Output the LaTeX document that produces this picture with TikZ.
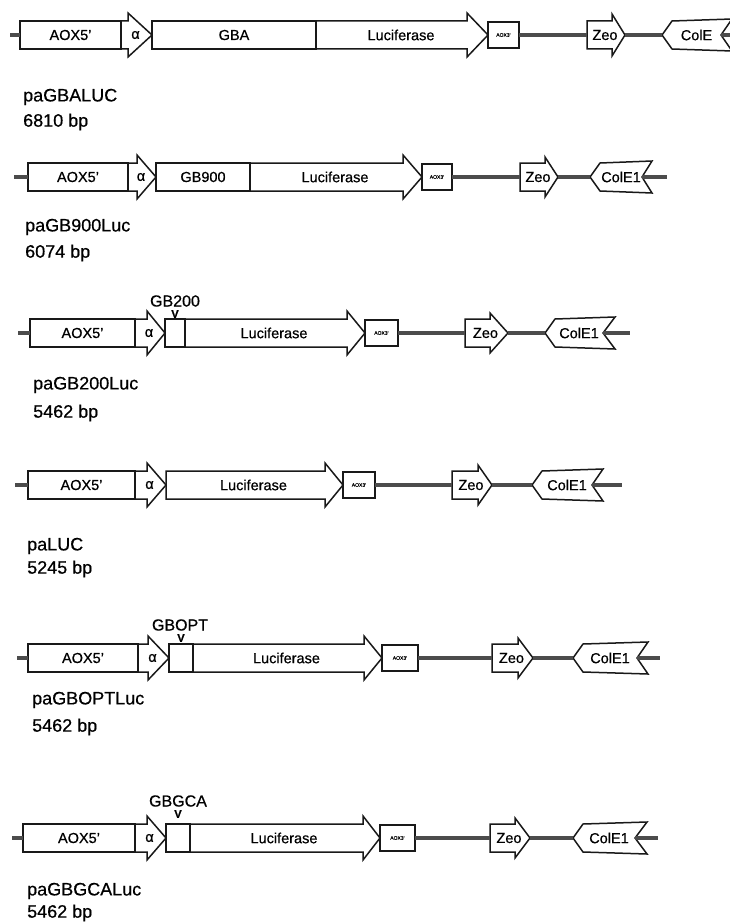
\documentclass[tikz,border=0pt]{standalone}
\usepackage{fontspec}
\setmainfont{Liberation Sans}[FakeBold=0.6]
\begin{document}
\begin{tikzpicture}[x=1pt,y=-1pt,
  seg/.style={draw=black!90,line width=1.5pt,fill=white,line join=miter},
  bb/.style={draw=black!70,line width=3.5pt},
  lab/.style={font=\fontsize{14.5}{14.5}\selectfont,inner sep=0pt},
  tinylab/.style={font=\fontsize{5}{5}\selectfont,inner sep=0pt},
  namelab/.style={font=\fontsize{18}{18}\selectfont,inner sep=0pt,anchor=west},
  gblab/.style={font=\fontsize{16}{16}\selectfont,inner sep=0pt},
  vlab/.style={font=\fontsize{11}{11}\selectfont\bfseries,inner sep=0pt}]
\useasboundingbox (0,0) rectangle (730,923);
% box: name x0 x1 yc label
\newcommand{\segbox}[5]{%
  \draw[seg] (#2,#4-14) rectangle (#3,#4+14);
  \coordinate (#1-in) at (#2,#4); \coordinate (#1-out) at (#3,#4);
  \node[lab] (#1) at ({(#2+#3)/2},#4) {#5};}
% small box (AOX3')
\newcommand{\smallbox}[4]{%
  \draw[seg] (#2,#4-13) rectangle (#3,#4+13);
  \coordinate (#1-in) at (#2,#4); \coordinate (#1-out) at (#3,#4);
  \node[tinylab] (#1) at ({(#2+#3)/2},#4) {AOX3'};}
% forward arrow: name x0 xh xt yc flare label
\newcommand{\fwdarrow}[7]{%
  \draw[seg] (#2,#5-14) -- (#3,#5-14) -- (#3,#5-14-#6) -- (#4,#5) -- (#3,#5+14+#6) -- (#3,#5+14) -- (#2,#5+14) -- cycle;
  \coordinate (#1-in) at (#2,#5); \coordinate (#1-out) at (#4,#5);
  \node[lab] (#1) at ({(#2+#4)/2-1},#5) {#7};}
% reverse arrow: name xt xh x1 xn yc label
\newcommand{\revarrow}[7]{%
  \draw[seg] (#2,#6) -- (#3,#6-14) -- (#4,#6-16) -- (#5,#6) -- (#4,#6+16) -- (#3,#6+14) -- cycle;
  \coordinate (#1-in) at (#2,#6); \coordinate (#1-out) at (#5,#6);
  \node[lab] (#1) at ({(#3+#5)/2},#6) {#7};}
% stub: name xs x0 yc
\newcommand{\stub}[4]{\coordinate (#1) at (#2,#4);}

% ---------- Row 1 ----------
\stub{s1}{10}{20}{35}
\segbox{a1}{20}{121}{35}{AOX5'}
\draw[bb] (s1) -- (a1-in);
\fwdarrow{al1}{121}{128}{152}{35}{8}{α}
\segbox{g1}{152}{316}{35}{GBA}
\fwdarrow{l1}{316}{467}{488}{35}{8}{Luciferase}
\smallbox{t1}{488}{519}{35}
\fwdarrow{z1}{587}{612}{625}{35}{7}{Zeo}
\draw[bb] (t1-out) -- (z1-in);
\coordinate (e1) at (730,35);
\revarrow{c1}{662}{672}{732}{721}{35}{ColE}
\draw[bb] (z1-out) -- (c1-in);
\draw[bb] (c1-out) -- (e1);
\node[namelab] (n1) at (23,97) {paGBALUC};
\node[namelab] (b1) at (23,122) {6810 bp};

% ---------- Row 2 ----------
\stub{s2}{14}{28}{177}
\segbox{a2}{28}{128}{177}{AOX5'}
\draw[bb] (s2) -- (a2-in);
\fwdarrow{al2}{128}{137}{156}{177}{8}{α}
\segbox{g2}{156}{250}{177}{GB900}
\fwdarrow{l2}{250}{403}{422}{177}{8}{Luciferase}
\smallbox{t2}{422}{452}{177}
\fwdarrow{z2}{520}{545}{558}{177}{6}{Zeo}
\draw[bb] (t2-out) -- (z2-in);
\revarrow{c2}{590}{600}{652}{642}{177}{ColE1}
\draw[bb] (z2-out) -- (c2-in);
\coordinate (e2) at (667,177);
\draw[bb] (c2-out) -- (e2);
\node[namelab] (n2) at (25,227) {paGB900Luc};
\node[namelab] (b2) at (25,253) {6074 bp};

% ---------- Row 3 ----------
\stub{s3}{18}{30}{333}
\segbox{a3}{30}{135}{333}{AOX5'}
\draw[bb] (s3) -- (a3-in);
\fwdarrow{al3}{135}{147}{165}{333}{8}{α}
\segbox{g3}{165}{185}{333}{}
\fwdarrow{l3}{185}{347}{365}{333}{8}{Luciferase}
\smallbox{t3}{365}{398}{333}
\fwdarrow{z3}{465}{490}{508}{333}{6}{Zeo}
\draw[bb] (t3-out) -- (z3-in);
\revarrow{c3}{545}{555}{615}{603}{333}{ColE1}
\draw[bb] (z3-out) -- (c3-in);
\coordinate (e3) at (630,333);
\draw[bb] (c3-out) -- (e3);
\node[gblab] (gl3) at (175,301) {GB200};
\node[vlab] (v3) at (175,314) {V};
\node[namelab] (n3) at (33,385) {paGB200Luc};
\node[namelab] (b3) at (33,413) {5462 bp};

% ---------- Row 4 ----------
\stub{s4}{15}{28}{485}
\segbox{a4}{28}{135}{485}{AOX5'}
\draw[bb] (s4) -- (a4-in);
\fwdarrow{al4}{135}{147}{166}{485}{8}{α}
\fwdarrow{l4}{166}{325}{343}{485}{8}{Luciferase}
\smallbox{t4}{343}{375}{485}
\fwdarrow{z4}{452}{478}{492}{485}{6}{Zeo}
\draw[bb] (t4-out) -- (z4-in);
\revarrow{c4}{532}{542}{603}{592}{485}{ColE1}
\draw[bb] (z4-out) -- (c4-in);
\coordinate (e4) at (622,485);
\draw[bb] (c4-out) -- (e4);
\node[namelab] (n4) at (27,546) {paLUC};
\node[namelab] (b4) at (27,569) {5245 bp};

% ---------- Row 5 ----------
\stub{s5}{17}{28}{658}
\segbox{a5}{28}{138}{658}{AOX5'}
\draw[bb] (s5) -- (a5-in);
\fwdarrow{al5}{138}{148}{169}{658}{8}{α}
\segbox{g5}{169}{193}{658}{}
\fwdarrow{l5}{193}{364}{382}{658}{8}{Luciferase}
\smallbox{t5}{382}{418}{658}
\fwdarrow{z5}{492}{518}{533}{658}{6}{Zeo}
\draw[bb] (t5-out) -- (z5-in);
\revarrow{c5}{573}{583}{648}{637}{658}{ColE1}
\draw[bb] (z5-out) -- (c5-in);
\coordinate (e5) at (660,658);
\draw[bb] (c5-out) -- (e5);
\node[gblab] (gl5) at (180,625) {GBOPT};
\node[vlab] (v5) at (181,638) {V};
\node[namelab] (n5) at (32,700) {paGBOPTLuc};
\node[namelab] (b5) at (32,727) {5462 bp};

% ---------- Row 6 ----------
\stub{s6}{12}{23}{838}
\segbox{a6}{23}{135}{838}{AOX5'}
\draw[bb] (s6) -- (a6-in);
\fwdarrow{al6}{135}{147}{166}{838}{8}{α}
\segbox{g6}{166}{190}{838}{}
\fwdarrow{l6}{190}{363}{380}{838}{8}{Luciferase}
\smallbox{t6}{380}{415}{838}
\fwdarrow{z6}{490}{515}{530}{838}{6}{Zeo}
\draw[bb] (t6-out) -- (z6-in);
\revarrow{c6}{573}{583}{647}{635}{838}{ColE1}
\draw[bb] (z6-out) -- (c6-in);
\coordinate (e6) at (658,838);
\draw[bb] (c6-out) -- (e6);
\node[gblab] (gl6) at (178,801) {GBGCA};
\node[vlab] (v6) at (178,814) {V};
\node[namelab] (n6) at (27,891) {paGBGCALuc};
\node[namelab] (b6) at (27,913) {5462 bp};
\end{tikzpicture}
\end{document}
